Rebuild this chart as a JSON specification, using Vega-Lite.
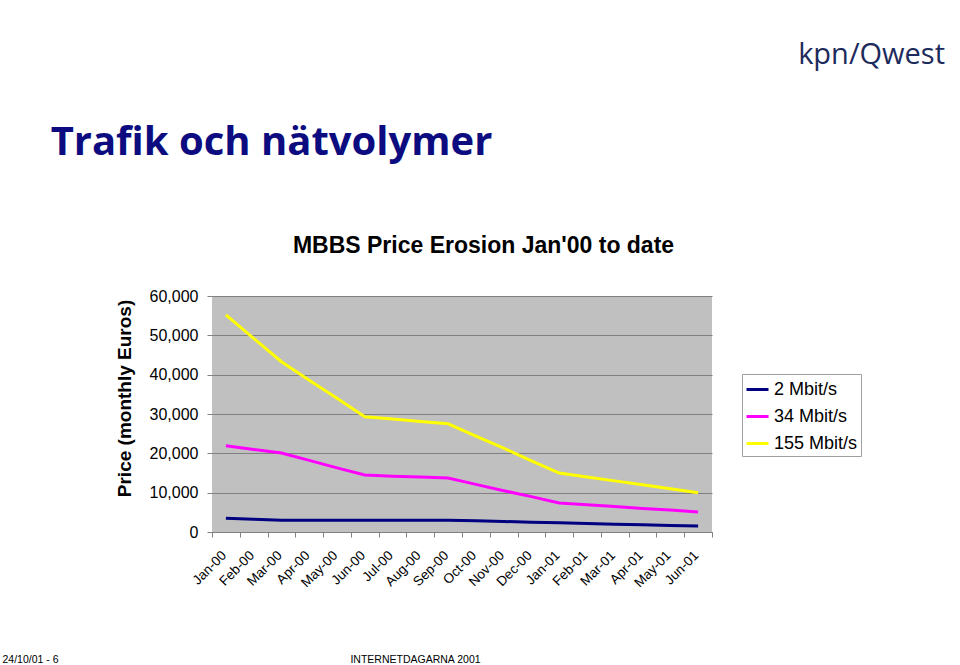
{
  "$schema": "https://vega.github.io/schema/vega-lite/v6.json",
  "width": 500,
  "height": 236,
  "autosize": "none",
  "padding": {"left": 212, "top": 296, "right": 248, "bottom": 133},
  "background": "white",
  "title": {
    "text": "kpn/Qwest",
    "anchor": "end",
    "frame": "group",
    "dx": 233,
    "offset": 29,
    "baseline": "alphabetic",
    "font": "Open Sans",
    "fontSize": 29,
    "fontWeight": "normal",
    "color": "#1D2B5C"
  },
  "config": {
    "font": "Liberation Sans",
    "view": {"fill": "#C0C0C0", "stroke": null}
  },
  "data": {
    "values": [
      {"month": "Jan-00", "series": "2 Mbit/s", "price": 3500},
      {"month": "Jan-00", "series": "34 Mbit/s", "price": 21900},
      {"month": "Jan-00", "series": "155 Mbit/s", "price": 55200},
      {"month": "Feb-00", "series": "2 Mbit/s", "price": 3250},
      {"month": "Feb-00", "series": "34 Mbit/s", "price": 21000},
      {"month": "Feb-00", "series": "155 Mbit/s", "price": 49250},
      {"month": "Mar-00", "series": "2 Mbit/s", "price": 3000},
      {"month": "Mar-00", "series": "34 Mbit/s", "price": 20100},
      {"month": "Mar-00", "series": "155 Mbit/s", "price": 43300},
      {"month": "Apr-00", "series": "2 Mbit/s", "price": 3000},
      {"month": "Apr-00", "series": "34 Mbit/s", "price": 18200},
      {"month": "Apr-00", "series": "155 Mbit/s", "price": 38600},
      {"month": "May-00", "series": "2 Mbit/s", "price": 3000},
      {"month": "May-00", "series": "34 Mbit/s", "price": 16300},
      {"month": "May-00", "series": "155 Mbit/s", "price": 34000},
      {"month": "Jun-00", "series": "2 Mbit/s", "price": 3000},
      {"month": "Jun-00", "series": "34 Mbit/s", "price": 14500},
      {"month": "Jun-00", "series": "155 Mbit/s", "price": 29300},
      {"month": "Jul-00", "series": "2 Mbit/s", "price": 3000},
      {"month": "Jul-00", "series": "34 Mbit/s", "price": 14200},
      {"month": "Jul-00", "series": "155 Mbit/s", "price": 28700},
      {"month": "Aug-00", "series": "2 Mbit/s", "price": 3000},
      {"month": "Aug-00", "series": "34 Mbit/s", "price": 14000},
      {"month": "Aug-00", "series": "155 Mbit/s", "price": 28100},
      {"month": "Sep-00", "series": "2 Mbit/s", "price": 3000},
      {"month": "Sep-00", "series": "34 Mbit/s", "price": 13700},
      {"month": "Sep-00", "series": "155 Mbit/s", "price": 27500},
      {"month": "Oct-00", "series": "2 Mbit/s", "price": 2830},
      {"month": "Oct-00", "series": "34 Mbit/s", "price": 12100},
      {"month": "Oct-00", "series": "155 Mbit/s", "price": 24400},
      {"month": "Nov-00", "series": "2 Mbit/s", "price": 2670},
      {"month": "Nov-00", "series": "34 Mbit/s", "price": 10500},
      {"month": "Nov-00", "series": "155 Mbit/s", "price": 21300},
      {"month": "Dec-00", "series": "2 Mbit/s", "price": 2500},
      {"month": "Dec-00", "series": "34 Mbit/s", "price": 9000},
      {"month": "Dec-00", "series": "155 Mbit/s", "price": 18100},
      {"month": "Jan-01", "series": "2 Mbit/s", "price": 2330},
      {"month": "Jan-01", "series": "34 Mbit/s", "price": 7400},
      {"month": "Jan-01", "series": "155 Mbit/s", "price": 15000},
      {"month": "Feb-01", "series": "2 Mbit/s", "price": 2170},
      {"month": "Feb-01", "series": "34 Mbit/s", "price": 6900},
      {"month": "Feb-01", "series": "155 Mbit/s", "price": 14000},
      {"month": "Mar-01", "series": "2 Mbit/s", "price": 2000},
      {"month": "Mar-01", "series": "34 Mbit/s", "price": 6500},
      {"month": "Mar-01", "series": "155 Mbit/s", "price": 13000},
      {"month": "Apr-01", "series": "2 Mbit/s", "price": 1830},
      {"month": "Apr-01", "series": "34 Mbit/s", "price": 6000},
      {"month": "Apr-01", "series": "155 Mbit/s", "price": 12000},
      {"month": "May-01", "series": "2 Mbit/s", "price": 1670},
      {"month": "May-01", "series": "34 Mbit/s", "price": 5600},
      {"month": "May-01", "series": "155 Mbit/s", "price": 11000},
      {"month": "Jun-01", "series": "2 Mbit/s", "price": 1500},
      {"month": "Jun-01", "series": "34 Mbit/s", "price": 5100},
      {"month": "Jun-01", "series": "155 Mbit/s", "price": 10000}
    ]
  },
  "layer": [
    {
      "mark": {"type": "line", "strokeWidth": 3},
      "encoding": {
        "x": {
          "field": "month",
          "type": "ordinal",
          "sort": null,
          "bandPosition": 0.5,
          "scale": {"type": "band", "paddingInner": 0, "paddingOuter": 0},
          "axis": {
            "title": "INTERNETDAGARNA 2001",
            "titleX": 203,
            "titleY": 127,
            "titleAlign": "center",
            "titleBaseline": "middle",
            "titleFontSize": 10.5,
            "titleFontWeight": "normal",
            "titleColor": "black",
            "labelAngle": -45,
            "labelFontSize": 13.5,
            "labelColor": "black",
            "labelPadding": 11,
            "labelOffset": -7,
            "tickBand": "extent",
            "tickSize": 5,
            "tickColor": "#808080",
            "domainColor": "#808080",
            "grid": false
          }
        },
        "y": {
          "field": "price",
          "type": "quantitative",
          "scale": {"domain": [0, 60000], "nice": false},
          "axis": {
            "title": "Price (monthly Euros)",
            "titleX": -88,
            "titleY": 102,
            "titleAngle": -90,
            "titleAlign": "center",
            "titleBaseline": "middle",
            "titleFontSize": 19,
            "titleFontWeight": "bold",
            "titleColor": "black",
            "values": [0, 10000, 20000, 30000, 40000, 50000, 60000],
            "format": ",d",
            "labelFontSize": 16,
            "labelColor": "black",
            "labelPadding": 9,
            "tickSize": 5,
            "tickColor": "#808080",
            "domain": false,
            "grid": true,
            "gridColor": "#808080",
            "gridWidth": 1
          }
        },
        "color": {
          "field": "series",
          "type": "nominal",
          "sort": ["2 Mbit/s", "34 Mbit/s", "155 Mbit/s"],
          "scale": {
            "domain": ["2 Mbit/s", "34 Mbit/s", "155 Mbit/s"],
            "range": ["#000080", "#FF00FF", "#FFFF00"]
          },
          "legend": {
            "title": null,
            "orient": "none",
            "legendX": 530,
            "legendY": 78,
            "symbolType": "stroke",
            "symbolStrokeWidth": 3,
            "symbolSize": 484,
            "labelFontSize": 18,
            "labelOffset": 4,
            "labelColor": "black",
            "rowPadding": 5,
            "padding": 3,
            "strokeColor": "#A0A0A0",
            "fillColor": "white",
            "labelLimit": 200
          }
        }
      }
    },
    {
      "mark": {"type": "point", "opacity": 0},
      "encoding": {
        "x": {
          "field": "month",
          "type": "ordinal",
          "sort": null,
          "axis": {
            "orient": "top",
            "domain": false,
            "ticks": false,
            "labels": false,
            "grid": false,
            "title": "MBBS Price Erosion Jan'00 to date",
            "titleX": 271,
            "titleY": -51,
            "titleAlign": "center",
            "titleBaseline": "middle",
            "titleFontSize": 23,
            "titleFontWeight": "bold",
            "titleColor": "black"
          }
        },
        "y": {
          "field": "price",
          "type": "quantitative",
          "axis": {
            "orient": "right",
            "domain": false,
            "ticks": false,
            "labels": false,
            "grid": false,
            "title": "24/10/01 - 6",
            "titleX": -710,
            "titleY": 363,
            "titleAngle": 0,
            "titleAlign": "left",
            "titleBaseline": "middle",
            "titleFontSize": 10.5,
            "titleFontWeight": "normal",
            "titleColor": "black"
          }
        }
      }
    },
    {
      "mark": {"type": "point", "opacity": 0},
      "encoding": {
        "y": {
          "field": "price",
          "type": "quantitative",
          "axis": {
            "orient": "right",
            "domain": false,
            "ticks": false,
            "labels": false,
            "grid": false,
            "title": "Trafik och nätvolymer",
            "titleX": -441,
            "titleY": -142,
            "titleAngle": 0,
            "titleAlign": "center",
            "titleBaseline": "alphabetic",
            "titleFont": "Open Sans",
            "titleFontSize": 40,
            "titleFontWeight": "bold",
            "titleColor": "#0C0C80"
          }
        }
      }
    }
  ],
  "resolve": {"axis": {"x": "independent", "y": "independent"}}
}
